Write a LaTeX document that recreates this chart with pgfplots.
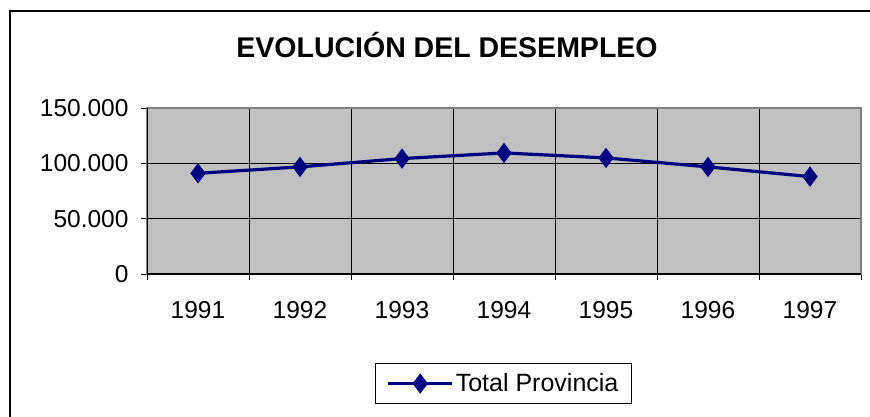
\documentclass[border=0pt]{standalone}
\usepackage{fontspec}
\setmainfont{Liberation Sans}
\usepackage{pgfplots}
\pgfplotsset{compat=1.18}
\definecolor{plotgray}{HTML}{C0C0C0}
\definecolor{framegray}{HTML}{808080}
\definecolor{navy}{HTML}{000080}

\begin{document}
\begin{tikzpicture}[x=1pt,y=1pt]
\clip (0,0) rectangle (870,-416);
\fill[white] (0,0) rectangle (870,-416);
\draw[line width=1.3pt] (10,-450) -- (10,-11) -- (890,-11);
\node[font=\bfseries\fontsize{28.5}{32}\selectfont] at (447,-45) {EVOLUCIÓN DEL DESEMPLEO};
\begin{axis}[
  at={(147pt,-274pt)}, anchor=south west,
  scale only axis, width=714pt, height=166pt,
  xmin=0, xmax=7, ymin=0, ymax=150000,
  axis background/.style={fill=plotgray},
  axis line style={draw=framegray, line width=2.5pt},
  tick align=outside, major tick length=6pt,
  tick style={black, line width=1pt},
  xtick={0,...,7}, xticklabels={},
  xtick pos=bottom, ytick pos=left,
  extra x ticks={0.5,1.5,2.5,3.5,4.5,5.5,6.5},
  extra x tick labels={1991,1992,1993,1994,1995,1996,1997},
  extra x tick style={major tick length=0pt, grid=none},
  ytick={0,50000,100000,150000},
  yticklabels={0,50.000,100.000,150.000},
  scaled y ticks=false,
  xmajorgrids, ymajorgrids,
  major grid style={black, line width=0.8pt},
  ticklabel style={font=\fontsize{24.5}{27}\selectfont},
  yticklabel style={xshift=-9pt},
  xticklabel style={yshift=-24pt},
  legend style={at={(0.4993,-0.66)}, anchor=center, draw=black, line width=1pt,
    font=\fontsize{25}{28}\selectfont, inner xsep=11pt, inner ysep=8.5pt},
  legend image code/.code={\draw[mark repeat=2,mark phase=2,#1] plot coordinates {(0pt,0pt) (32pt,0pt) (64pt,0pt)};},
]
\addplot[navy, line width=3.2pt, mark=diamond*, mark size=9.5pt, mark options={solid, line width=0.8pt}]
  coordinates {(0.5,91000) (1.5,96800) (2.5,104300) (3.5,109400) (4.5,104900) (5.5,96800) (6.5,88000)};
\legend{Total Provincia}
\draw[black, line width=1.2pt] (rel axis cs:0,1) -- (rel axis cs:0,0) -- (rel axis cs:1,0);
\end{axis}
\end{tikzpicture}
\end{document}
